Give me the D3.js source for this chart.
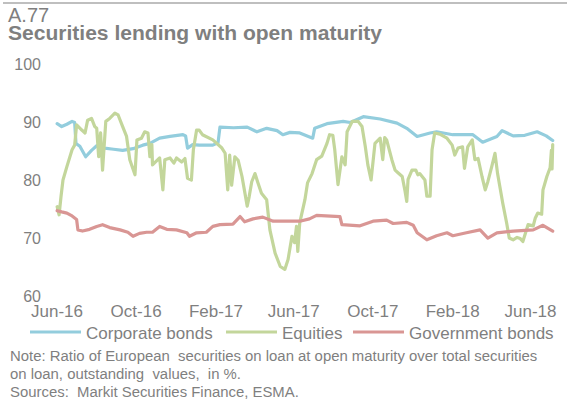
<!DOCTYPE html>
<html><head><meta charset="utf-8">
<script src="https://cdn.jsdelivr.net/npm/d3@7"></script>
<style>
html,body{margin:0;padding:0;background:#fff;}
svg{display:block;font-family:"Liberation Sans",Arial,sans-serif;}
</style></head>
<body>
<svg id="chart" width="567" height="400"></svg>
<script>
// ---------- DATA ----------
const figureId = "A.77";
const title = "Securities lending with open maturity";
const seriesNames = ["Corporate bonds", "Equities", "Government bonds"];
const xTickLabels = ["Jun-16","Oct-16","Feb-17","Jun-17","Oct-17","Feb-18","Jun-18"];
const yTicks = [60, 70, 80, 90, 100];
const noteLines = [
  "Note: Ratio of European  securities on loan at open maturity over total securities",
  "on loan, outstanding  values,  in %.",
  "Sources:  Markit Securities Finance, ESMA."
];

const corporateDates = ["2016-06-02","2016-06-09","2016-06-17","2016-06-25","2016-06-29","2016-07-01","2016-07-07","2016-07-16","2016-07-25","2016-08-02","2016-08-14","2016-08-28","2016-09-11","2016-09-27","2016-10-12","2016-10-23","2016-11-07","2016-11-23","2016-12-13","2016-12-17","2016-12-20","2016-12-28","2017-01-07","2017-01-28","2017-02-05","2017-02-08","2017-03-01","2017-03-22","2017-04-06","2017-04-21","2017-05-07","2017-05-16","2017-05-27","2017-06-11","2017-07-01","2017-07-04","2017-07-23","2017-08-17","2017-08-28","2017-09-17","2017-10-13","2017-11-08","2017-11-23","2017-12-09","2017-12-29","2018-01-08","2018-02-02","2018-03-05","2018-03-20","2018-04-11","2018-04-19","2018-05-06","2018-05-24","2018-06-12","2018-06-26","2018-07-06"];
const corporateValues = [89.6,89.1,89.5,90.0,89.8,86.2,85.7,83.9,85.0,85.8,85.4,85.2,85.0,85.3,85.9,86.2,87.1,87.4,87.7,87.5,85.4,86.0,85.9,85.9,86.3,89.0,88.9,89.0,88.2,88.8,88.4,87.7,88.1,88.0,87.1,88.8,89.6,90.0,89.8,90.8,90.4,89.7,88.8,87.4,88.0,88.2,87.7,87.7,86.4,87.4,88.4,87.5,87.6,88.2,87.5,86.7];

const equityDates = ["2016-06-02","2016-06-05","2016-06-08","2016-06-11","2016-06-17","2016-06-25","2016-06-29","2016-07-02","2016-07-10","2016-07-15","2016-07-19","2016-07-25","2016-07-30","2016-08-02","2016-08-05","2016-08-08","2016-08-11","2016-08-16","2016-08-22","2016-08-30","2016-09-04","2016-09-11","2016-09-17","2016-09-22","2016-09-30","2016-10-03","2016-10-10","2016-10-15","2016-10-20","2016-10-23","2016-10-26","2016-10-27","2016-11-07","2016-11-12","2016-11-15","2016-11-23","2016-11-29","2016-12-03","2016-12-11","2016-12-16","2016-12-20","2016-12-26","2016-12-29","2017-01-03","2017-01-07","2017-01-12","2017-01-28","2017-02-11","2017-02-16","2017-02-20","2017-02-23","2017-02-26","2017-03-03","2017-03-08","2017-03-14","2017-03-22","2017-03-25","2017-03-29","2017-04-03","2017-04-07","2017-04-13","2017-04-21","2017-04-26","2017-05-04","2017-05-12","2017-05-19","2017-05-24","2017-05-30","2017-06-03","2017-06-06","2017-06-08","2017-06-11","2017-06-19","2017-06-23","2017-06-30","2017-07-07","2017-07-15","2017-07-23","2017-07-27","2017-08-01","2017-08-04","2017-08-09","2017-08-15","2017-08-20","2017-08-23","2017-08-31","2017-09-09","2017-09-15","2017-09-20","2017-09-24","2017-09-29","2017-10-05","2017-10-13","2017-10-17","2017-10-20","2017-10-23","2017-10-31","2017-11-05","2017-11-09","2017-11-16","2017-11-20","2017-11-23","2017-11-25","2017-12-01","2017-12-07","2017-12-10","2017-12-13","2017-12-21","2017-12-24","2017-12-29","2018-01-01","2018-01-05","2018-01-13","2018-01-24","2018-02-01","2018-02-05","2018-02-10","2018-02-17","2018-02-20","2018-02-25","2018-03-04","2018-03-08","2018-03-13","2018-03-19","2018-03-24","2018-03-28","2018-04-03","2018-04-08","2018-04-12","2018-04-20","2018-04-26","2018-04-30","2018-05-06","2018-05-12","2018-05-17","2018-05-21","2018-05-29","2018-06-06","2018-06-09","2018-06-13","2018-06-19","2018-06-21","2018-06-27","2018-07-02","2018-07-04","2018-07-05","2018-07-06"];
const equityValues = [75.3,73.9,77.1,79.9,82.2,85.1,85.9,89.4,88.5,88.0,90.2,90.5,89.1,88.8,83.9,88.0,81.6,90.0,90.5,91.4,91.1,89.1,87.4,83.4,80.8,86.8,87.1,88.2,88.0,83.9,86.0,82.5,83.7,78.2,83.4,83.7,82.8,83.7,83.0,83.6,80.2,79.9,85.1,88.5,88.5,87.7,86.8,85.4,84.5,78.2,84.2,79.0,83.9,83.3,80.5,75.4,77.0,79.6,81.0,79.6,77.6,76.5,71.3,67.3,65.0,64.5,66.2,70.2,69.1,71.9,67.6,72.5,76.5,79.4,81.0,83.4,84.0,86.2,87.7,87.6,85.1,79.1,83.9,82.5,88.2,90.0,90.0,89.1,85.7,82.5,79.9,86.2,87.1,83.4,87.2,86.8,83.4,81.6,81.2,80.5,78.2,76.2,80.0,81.6,81.6,80.8,81.0,79.9,77.1,77.1,85.1,88.0,87.8,87.1,85.9,84.2,85.4,85.6,81.9,85.6,86.8,83.4,83.6,80.5,78.2,79.6,82.2,84.5,81.0,75.9,72.5,69.9,69.6,70.0,69.8,69.3,72.2,72.0,73.3,74.2,74.0,78.2,80.5,82.0,85.0,81.8,86.0];

const governmentDates = ["2016-06-02","2016-06-09","2016-06-17","2016-06-25","2016-07-02","2016-07-04","2016-07-11","2016-07-22","2016-08-02","2016-08-11","2016-08-22","2016-09-07","2016-09-19","2016-09-27","2016-10-07","2016-10-18","2016-10-27","2016-11-07","2016-11-18","2016-12-03","2016-12-19","2016-12-23","2017-01-03","2017-01-18","2017-01-28","2017-02-08","2017-02-28","2017-03-11","2017-03-18","2017-03-31","2017-04-15","2017-05-01","2017-05-27","2017-06-11","2017-06-26","2017-07-07","2017-08-12","2017-08-15","2017-09-12","2017-10-02","2017-10-23","2017-11-02","2017-11-23","2017-12-03","2017-12-09","2017-12-24","2018-01-08","2018-01-24","2018-02-02","2018-02-23","2018-03-16","2018-03-28","2018-04-11","2018-05-06","2018-06-06","2018-06-21","2018-07-06"];
const governmentValues = [74.6,74.4,74.2,73.7,73.1,71.3,71.1,71.4,71.9,72.2,71.7,71.3,70.9,70.2,70.7,70.9,70.9,71.9,71.4,71.3,70.8,70.2,70.8,70.9,71.9,72.2,72.3,73.6,72.7,73.2,73.5,72.8,72.8,72.8,73.2,73.8,73.6,72.2,72.0,72.8,73.0,72.4,72.6,72.1,70.8,69.6,70.3,70.8,70.3,70.8,71.3,69.9,70.8,71.1,71.3,72.1,71.1];

// ---------- STYLE ----------
const colors = ["#93CDDD", "#C3D69B", "#D99694"];
const textGray = "#7F7F7F";

const svg = d3.select("#chart");
const parseDay = d3.timeParse("%Y-%m-%d");
const parseTick = d3.timeParse("%b-%y");

const x = d3.scaleTime()
  .domain([parseTick("Jun-16"), parseTick("Jun-18")])
  .range([56.5, 530]);
const y = d3.scaleLinear().domain([60, 100]).range([295.5, 63.3]);

// top rule
svg.append("rect").attr("x", 3).attr("y", 2).attr("width", 564).attr("height", 2).attr("fill", "#BFBFBF");

svg.append("text").attr("x", 8).attr("y", 22).attr("font-size", 20).attr("fill", textGray).text(figureId);
svg.append("text").attr("x", 8).attr("y", 40).attr("font-size", 19.5).attr("font-weight", "bold").attr("fill", textGray)
  .attr("textLength", 374).attr("lengthAdjust", "spacingAndGlyphs").text(title);

// y axis
const yAxis = svg.append("g").attr("transform", "translate(41,0)")
  .call(d3.axisLeft(y).tickValues(yTicks).tickSize(0).tickPadding(0));
yAxis.select(".domain").remove();
yAxis.selectAll("text").attr("font-size", 16).attr("fill", textGray).attr("font-family", "Liberation Sans, Arial, sans-serif").attr("dy", "0.36em");

// x axis
const xAxis = svg.append("g").attr("transform", "translate(0,304)")
  .call(d3.axisBottom(x).tickValues(xTickLabels.map(parseTick)).tickFormat(d3.timeFormat("%b-%y")).tickSize(0).tickPadding(0));
xAxis.select(".domain").remove();
xAxis.selectAll("text").attr("font-size", 17).attr("fill", textGray).attr("font-family", "Liberation Sans, Arial, sans-serif").attr("dy", "0.75em");

// series
const series = [
  {name: seriesNames[0], dates: corporateDates, values: corporateValues, color: colors[0]},
  {name: seriesNames[1], dates: equityDates, values: equityValues, color: colors[1]},
  {name: seriesNames[2], dates: governmentDates, values: governmentValues, color: colors[2]}
];
const line = d3.line().x(d => x(d[0])).y(d => y(d[1]));
series.forEach(s => {
  const pts = s.dates.map((d, i) => [parseDay(d), s.values[i]]);
  svg.append("path").datum(pts).attr("d", line)
    .attr("fill", "none").attr("stroke", s.color).attr("stroke-width", 3.2)
    .attr("stroke-linejoin", "round").attr("stroke-linecap", "round");
});

// legend
const legendX = [30, 226, 353];
const leg = svg.append("g");
series.forEach((s, i) => {
  leg.append("line").attr("x1", legendX[i]).attr("x2", legendX[i] + 51).attr("y1", 332).attr("y2", 332)
    .attr("stroke", s.color).attr("stroke-width", 3);
  leg.append("text").attr("x", legendX[i] + 56).attr("y", 338.5).attr("font-size", 17).attr("fill", textGray).text(s.name);
});

// notes
noteLines.forEach((t, i) => {
  svg.append("text").attr("x", 10).attr("y", 361 + i * 18).attr("font-size", 14.9).attr("fill", textGray)
    .attr("xml:space", "preserve").style("white-space", "pre").text(t);
});
</script>
</body></html>
